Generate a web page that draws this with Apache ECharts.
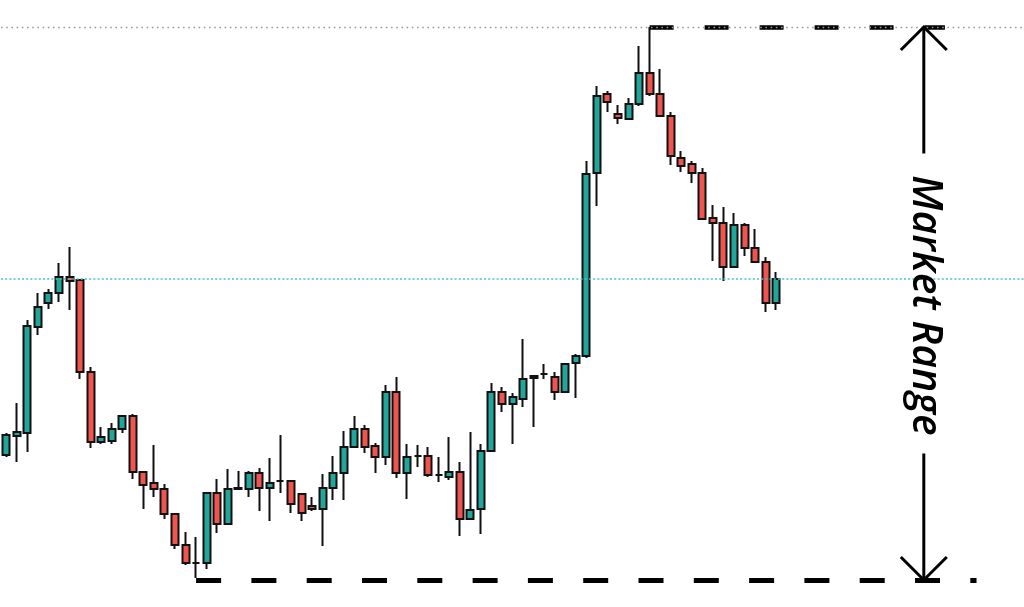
<!DOCTYPE html>
<html>
<head>
<meta charset="utf-8">
<script src="https://cdn.jsdelivr.net/npm/echarts@6/dist/echarts.min.js"></script>
<style>
html,body{margin:0;padding:0;background:#fff;}
#c{width:1024px;height:607px;}
</style>
</head>
<body>
<div id="c"></div>
<script>
// Candle values: [open, close, low, high]
const opens  = [145,164,167,273,297,307,323,320,228,158,159,171,184,128,117,111,86,55,37,37,107,76,111,111,127,112,119,119,106,94,91,112,127,153,171,154,143,208,127,144,144,125,123,128,81,91,149,208,196,201,222,226,223,208,237,244,427,506,486,481,496,527,506,484,442,436,427,382,377,333,375,352,338,297];
const closes = [165,168,274,293,307,323,319,228,158,163,171,184,128,115,111,86,55,37,37,107,76,111,112,127,112,117,119,96,87,91,112,127,153,171,153,143,208,127,143,144,125,125,128,81,90,149,208,196,203,221,224,226,208,236,244,426,504,498,482,496,527,506,484,444,434,427,381,377,333,375,352,338,297,321];
const lows   = [143,138,148,265,291,298,290,221,152,156,156,167,121,91,103,81,51,35,22,31,67,76,111,103,89,79,107,87,79,89,54,100,100,153,147,127,135,122,101,133,123,118,120,64,81,66,149,188,156,193,173,221,200,208,202,242,394,488,476,481,494,504,484,435,428,417,381,339,319,333,344,338,288,290];
const highs  = [167,197,280,307,311,337,353,320,233,173,177,184,186,128,155,116,86,68,63,107,121,131,129,129,132,142,165,119,106,103,126,144,169,184,175,157,215,223,156,155,153,143,163,138,168,156,217,213,207,261,224,236,228,236,246,439,514,509,495,502,554,573,531,488,449,439,432,395,393,387,377,371,343,328];

// Category slots (extra empty slots on the right hold the annotation)
const categories = Array.from({length: 97}, (_, i) => String(i + 1));

// Reference levels
const rangeHigh = 573;      // top dotted level / range top
const rangeLow = 20;        // bottom dashed level / range bottom
const midLevel = 321;       // teal dotted level
const rangeHighStart = 61, rangeHighEnd = 89.3;
const rangeLowStart = 18, rangeLowEnd = 92;
const arrowSlot = 87;
const annotationText = 'Market Range';

const candleData = opens.map((o, i) => [o, closes[i], lows[i], highs[i]]);

const chart = echarts.init(document.getElementById('c'), null, {renderer: 'canvas'});
chart.setOption({
  animation: false,
  backgroundColor: '#ffffff',
  grid: {left: 1, right: -4, top: 0, bottom: 0, containLabel: false},
  xAxis: {
    type: 'category', data: categories, boundaryGap: true,
    axisLine: {show: false}, axisTick: {show: false}, axisLabel: {show: false}, splitLine: {show: false}
  },
  yAxis: {
    type: 'value', min: -7, max: 600, scale: true,
    axisLine: {show: false}, axisTick: {show: false}, axisLabel: {show: false}, splitLine: {show: false}
  },
  series: [{
    type: 'candlestick',
    data: candleData,
    barWidth: 7.5,
    itemStyle: {
      color: '#22a699', color0: '#f0544f',
      borderColor: '#111', borderColor0: '#111', borderColorDoji: '#111',
      borderWidth: 2
    },
    markLine: {
      silent: true,
      symbol: ['none', 'none'],
      label: {show: false},
      data: [
        [{coord: [rangeLowStart, rangeLow], lineStyle: {color: '#000', width: 5, type: [25, 30.3]}},
         {coord: [rangeLowEnd, rangeLow]}],
        [{coord: [rangeHighStart, rangeHigh], lineStyle: {color: '#000', width: 4.5, type: [24, 31]}},
         {coord: [rangeHighEnd, rangeHigh]}],
        {yAxis: midLevel, lineStyle: {color: '#4cc4c4', width: 1.6, type: [2, 2.2]}},
        {yAxis: rangeHigh, lineStyle: {color: '#9a9a9a', width: 1.3, type: [1.6, 3.6]}}
      ]
    },
    z: 2
  }]
});

// Annotation anchored to data coordinates
const pTop = chart.convertToPixel({xAxisIndex: 0, yAxisIndex: 0}, [arrowSlot, rangeHigh]);
const pBot = chart.convertToPixel({xAxisIndex: 0, yAxisIndex: 0}, [arrowSlot, rangeLow]);
const ax = pTop[0];
const midY = (pTop[1] + pBot[1]) / 2;
const gapHalf = 150;
const head = 23;
const stroke = {stroke: '#000', lineWidth: 3, fill: null};
chart.setOption({
  graphic: [
    {type: 'line', shape: {x1: ax, y1: pTop[1], x2: ax, y2: midY - gapHalf}, style: stroke, z: 10},
    {type: 'line', shape: {x1: ax, y1: midY + gapHalf, x2: ax, y2: pBot[1]}, style: stroke, z: 10},
    {type: 'polyline', shape: {points: [[ax - head, pTop[1] + head], [ax, pTop[1]], [ax + head, pTop[1] + head]]}, style: stroke, z: 10},
    {type: 'polyline', shape: {points: [[ax - head, pBot[1] - head], [ax, pBot[1]], [ax + head, pBot[1] - head]]}, style: stroke, z: 10},
    {type: 'text', x: ax + 1, y: midY + 2, rotation: -Math.PI / 2,
     style: {text: annotationText, font: 'italic 600 41px "Open Sans"', fill: '#000', align: 'center', verticalAlign: 'middle'}, z: 10}
  ]
});
</script>
</body>
</html>
